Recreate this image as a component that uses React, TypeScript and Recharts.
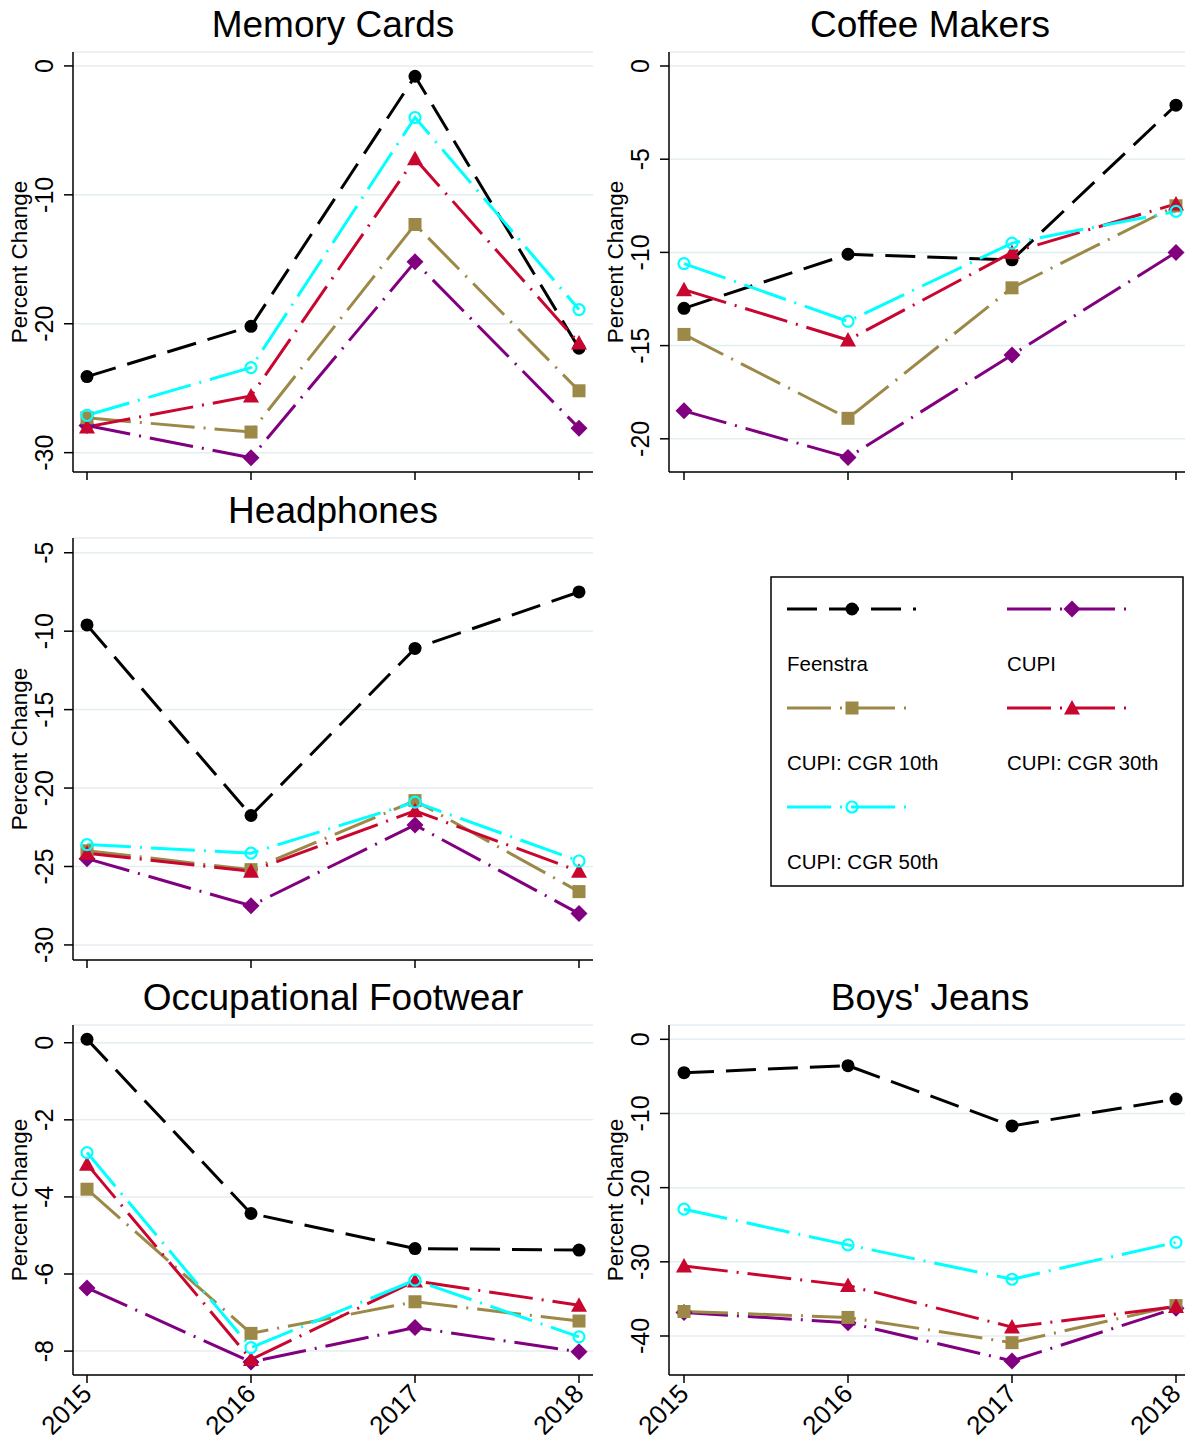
import React from 'react';
import { LineChart, Line, XAxis, YAxis, CartesianGrid } from 'recharts';

const years = [2015, 2016, 2017, 2018];
const seriesNames = ['Feenstra', 'CUPI', 'CUPI: CGR 10th', 'CUPI: CGR 30th', 'CUPI: CGR 50th'];

// Memory Cards
const memoryFeenstra = [-24.1, -20.2, -0.8, -21.9];
const memoryCupi = [-27.9, -30.4, -15.2, -28.1];
const memoryCgr10 = [-27.3, -28.4, -12.3, -25.2];
const memoryCgr30 = [-28.0, -25.6, -7.2, -21.5];
const memoryCgr50 = [-27.1, -23.4, -4.0, -18.9];
const memoryTicks = [0, -10, -20, -30];

// Coffee Makers
const coffeeFeenstra = [-13.0, -10.1, -10.4, -2.1];
const coffeeCupi = [-18.5, -21.0, -15.5, -10.0];
const coffeeCgr10 = [-14.4, -18.9, -11.9, -7.5];
const coffeeCgr30 = [-12.0, -14.7, -10.0, -7.4];
const coffeeCgr50 = [-10.6, -13.7, -9.5, -7.8];
const coffeeTicks = [0, -5, -10, -15, -20];

// Headphones
const headFeenstra = [-9.6, -21.75, -11.1, -7.5];
const headCupi = [-24.5, -27.5, -22.35, -28.0];
const headCgr10 = [-24.0, -25.2, -20.8, -26.6];
const headCgr30 = [-24.15, -25.3, -21.45, -25.3];
const headCgr50 = [-23.6, -24.15, -20.9, -24.65];
const headTicks = [-5, -10, -15, -20, -25, -30];

// Occupational Footwear
const footFeenstra = [0.09, -4.43, -5.34, -5.38];
const footCupi = [-6.36, -8.28, -7.39, -8.02];
const footCgr10 = [-3.8, -7.54, -6.72, -7.22];
const footCgr30 = [-3.15, -8.22, -6.18, -6.81];
const footCgr50 = [-2.85, -7.91, -6.16, -7.63];
const footTicks = [0, -2, -4, -6, -8];

// Boys' Jeans
const jeansFeenstra = [-4.5, -3.55, -11.68, -8.05];
const jeansCupi = [-36.84, -38.2, -43.36, -36.25];
const jeansCgr10 = [-36.7, -37.5, -40.9, -35.9];
const jeansCgr30 = [-30.55, -33.2, -38.8, -36.03];
const jeansCgr50 = [-22.9, -27.72, -32.35, -27.37];
const jeansTicks = [0, -10, -20, -30, -40];

const FONT = '"Liberation Sans", Arial, Helvetica, sans-serif';
const GRID = '#e4edf0';
const LINE_W = 3;

const STYLES = [
  { color: '#000000', dash: '30 12', marker: 'circle' },
  { color: '#800080', dash: '44 9 2 9', marker: 'diamond' },
  { color: '#9c8847', dash: '44 9 2 9', marker: 'square' },
  { color: '#c8062f', dash: '44 9 2 9', marker: 'triangle' },
  { color: '#00ffff', dash: '44 9 2 9', marker: 'hollow' },
];

function Marker({ cx, cy, kind, color }: any) {
  if (cx == null || cy == null || isNaN(cx) || isNaN(cy)) return <g />;
  switch (kind) {
    case 'circle':
      return <circle cx={cx} cy={cy} r={6.5} fill={color} />;
    case 'diamond':
      return <path d={`M${cx},${cy - 8.5}L${cx + 8.5},${cy}L${cx},${cy + 8.5}L${cx - 8.5},${cy}Z`} fill={color} />;
    case 'square':
      return <rect x={cx - 6.5} y={cy - 6.5} width={13} height={13} fill={color} />;
    case 'triangle':
      return <path d={`M${cx},${cy - 8}L${cx + 8},${cy + 6.5}L${cx - 8},${cy + 6.5}Z`} fill={color} />;
    case 'hollow':
      return <circle cx={cx} cy={cy} r={5.5} fill="none" stroke={color} strokeWidth={2.2} />;
    default:
      return <g />;
  }
}

const YTick = (props: any) => {
  const { x, y, payload } = props;
  const bx = x - 9;
  return (
    <text x={bx} y={y} transform={`rotate(-90 ${bx} ${y})`} textAnchor="middle" fontSize={25} fill="#000" fontFamily={FONT}>
      {payload.value}
    </text>
  );
};

const XTick = (props: any) => {
  const { x, y, payload } = props;
  const ox = x - 7;
  const oy = y - 3;
  return (
    <text x={ox} y={oy} dy="0.72em" transform={`rotate(-45 ${ox} ${oy})`} textAnchor="end" fontSize={26} fill="#000" fontFamily={FONT}>
      {payload.value}
    </text>
  );
};

const EmptyTick = () => <g />;

type PanelProps = {
  series: number[][];
  domain: [number, number];
  ticks: number[];
  left: number;
  top: number;
  width: number;
  height: number;
  yWidth: number;
  marginTop: number;
  xHeight: number;
  showLabels: boolean;
  padL: number;
  padR: number;
};

function Panel(p: PanelProps) {
  const rows = years.map((yr, i) => {
    const r: any = { year: yr };
    p.series.forEach((s, k) => {
      r[`s${k}`] = s[i];
    });
    return r;
  });
  return (
    <div style={{ position: 'absolute', left: p.left, top: p.top }}>
      <LineChart width={p.width} height={p.height} data={rows} margin={{ top: p.marginTop, right: 0, bottom: 0, left: 0 }}>
        <CartesianGrid vertical={false} stroke={GRID} strokeWidth={1.5} />
        <XAxis
          dataKey="year"
          type="number"
          domain={[2015, 2018]}
          ticks={years}
          interval={0}
          padding={{ left: p.padL, right: p.padR }}
          height={p.xHeight}
          tickSize={8}
          axisLine={{ stroke: '#000', strokeWidth: 1.5 }}
          tickLine={{ stroke: '#000', strokeWidth: 1.5 }}
          tick={p.showLabels ? XTick : EmptyTick}
        />
        <YAxis
          type="number"
          domain={p.domain}
          ticks={p.ticks}
          interval={0}
          allowDataOverflow
          width={p.yWidth}
          tickSize={9}
          axisLine={{ stroke: '#000', strokeWidth: 1.5 }}
          tickLine={{ stroke: '#000', strokeWidth: 1.5 }}
          tick={YTick}
        />
        {STYLES.map((s, k) => (
          <Line
            key={k}
            type="linear"
            dataKey={`s${k}`}
            stroke={s.color}
            strokeWidth={LINE_W}
            strokeDasharray={s.dash}
            isAnimationActive={false}
            activeDot={false}
            dot={(dp: any) => <Marker key={`m${k}-${dp.index}`} cx={dp.cx} cy={dp.cy} kind={s.marker} color={s.color} />}
          />
        ))}
      </LineChart>
    </div>
  );
}

const titles = [
  { text: 'Memory Cards', x: 333, y: 37 },
  { text: 'Coffee Makers', x: 930, y: 37 },
  { text: 'Headphones', x: 333, y: 523 },
  { text: 'Occupational Footwear', x: 333, y: 1010 },
  { text: "Boys' Jeans", x: 930, y: 1010 },
];

const yLabels = [
  { x: 27, y: 262 },
  { x: 623, y: 262 },
  { x: 27, y: 749 },
  { x: 27, y: 1200 },
  { x: 623, y: 1200 },
];

const legendCols = [787, 1007];
const legendRows = [609, 708, 807];

export default function App() {
  return (
    <div style={{ position: 'relative', width: 1185, height: 1439, overflow: 'hidden', background: '#fff' }}>
      <style>{'body{margin:0;overflow:hidden;}'}</style>
      <Panel
        series={[memoryFeenstra, memoryCupi, memoryCgr10, memoryCgr30, memoryCgr50]}
        domain={[-31.5, 1.08]}
        ticks={memoryTicks}
        left={0}
        top={0}
        width={593}
        height={482}
        yWidth={73}
        marginTop={52}
        xHeight={10}
        showLabels={false}
        padL={14}
        padR={14}
      />
      <Panel
        series={[coffeeFeenstra, coffeeCupi, coffeeCgr10, coffeeCgr30, coffeeCgr50]}
        domain={[-21.78, 0.75]}
        ticks={coffeeTicks}
        left={600}
        top={0}
        width={591}
        height={482}
        yWidth={69}
        marginTop={52}
        xHeight={10}
        showLabels={false}
        padL={15}
        padR={15}
      />
      <Panel
        series={[headFeenstra, headCupi, headCgr10, headCgr30, headCgr50]}
        domain={[-30.96, -4.06]}
        ticks={headTicks}
        left={0}
        top={486}
        width={593}
        height={484}
        yWidth={73}
        marginTop={52}
        xHeight={10}
        showLabels={false}
        padL={14}
        padR={14}
      />
      <Panel
        series={[footFeenstra, footCupi, footCgr10, footCgr30, footCgr50]}
        domain={[-8.62, 0.46]}
        ticks={footTicks}
        left={0}
        top={973}
        width={593}
        height={466}
        yWidth={73}
        marginTop={52}
        xHeight={64}
        showLabels={true}
        padL={14}
        padR={14}
      />
      <Panel
        series={[jeansFeenstra, jeansCupi, jeansCgr10, jeansCgr30, jeansCgr50]}
        domain={[-45.26, 1.93]}
        ticks={jeansTicks}
        left={600}
        top={973}
        width={591}
        height={466}
        yWidth={69}
        marginTop={52}
        xHeight={64}
        showLabels={true}
        padL={15}
        padR={15}
      />
      <svg width={1185} height={1439} style={{ position: 'absolute', left: 0, top: 0, pointerEvents: 'none' }}>
        {titles.map((t) => (
          <text key={t.text} x={t.x} y={t.y} textAnchor="middle" fontSize={37} fontFamily={FONT} fill="#000">
            {t.text}
          </text>
        ))}
        {yLabels.map((l, i) => (
          <text key={i} x={l.x} y={l.y} transform={`rotate(-90 ${l.x} ${l.y})`} textAnchor="middle" fontSize={22.5} fontFamily={FONT} fill="#000">
            Percent Change
          </text>
        ))}
        <rect x={771} y={577} width={412} height={309} fill="#fff" stroke="#000" strokeWidth={1.5} />
        {seriesNames.map((name, i) => {
          const col = legendCols[i % 2];
          const row = legendRows[Math.floor(i / 2)];
          const s = STYLES[i];
          const len = i === 0 ? 129 : 124;
          return (
            <g key={name}>
              <line x1={col} y1={row} x2={col + len} y2={row} stroke={s.color} strokeWidth={LINE_W} strokeDasharray={s.dash} />
              <Marker cx={col + 65} cy={row} kind={s.marker} color={s.color} />
              <text x={col} y={row + 62} fontSize={20.5} fontFamily={FONT} fill="#000">
                {name}
              </text>
            </g>
          );
        })}
      </svg>
    </div>
  );
}
